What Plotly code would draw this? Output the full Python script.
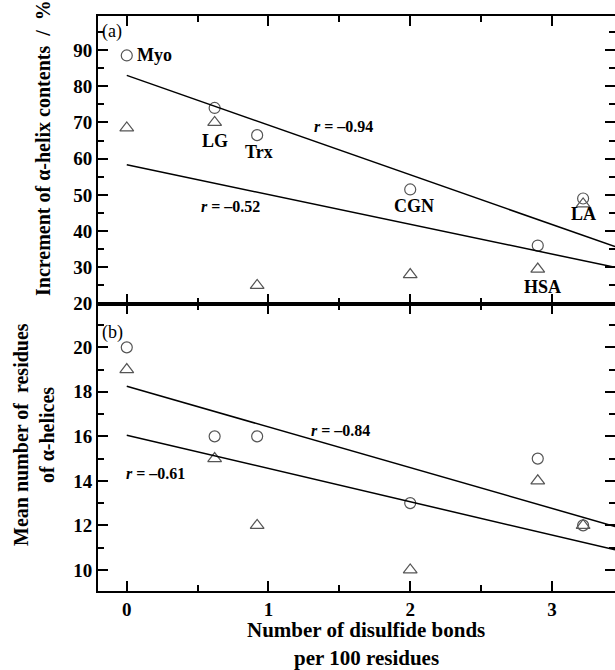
import plotly.graph_objects as go

# ---------------- data ----------------
proteins = ["Myo", "LG", "Trx", "CGN", "HSA", "LA"]
disulfide = [0.0, 0.62, 0.92, 2.0, 2.9, 3.22]

# panel (a): increment of alpha-helix contents (%)
inc_circle = [88.5, 74.0, 66.5, 51.5, 36.0, 49.0]
inc_triangle = [68.5, 70.0, 25.0, 28.0, 29.5, 47.5]
fit_a_x = [0.0, 3.445]
fit_a_upper = [83.0, 35.7]
fit_a_lower = [58.3, 30.0]

# panel (b): mean number of residues of alpha-helices
res_circle = [20.0, 16.0, 16.0, 13.0, 15.0, 12.0]
res_triangle = [19.0, 15.0, 12.0, 10.0, 14.0, 12.0]
fit_b_x = [0.0, 3.445]
fit_b_upper = [18.25, 11.95]
fit_b_lower = [16.05, 10.9]

FONT = "Liberation Serif"
MK = "#555555"
XR = [-0.203, 3.445]
YA = [20, 99.4]
YB = [9.05, 21.97]

fig = go.Figure()

def scatter(x, y, sym, size, xa, ya):
    fig.add_trace(go.Scatter(
        x=x, y=y, mode="markers", xaxis=xa, yaxis=ya, showlegend=False,
        marker=dict(symbol=sym, size=size, color=MK,
                    line=dict(color=MK, width=1.2))))

def line(x, y, xa, ya):
    fig.add_trace(go.Scatter(
        x=x, y=y, mode="lines", xaxis=xa, yaxis=ya, showlegend=False,
        line=dict(color="black", width=1.5)))

scatter(disulfide, inc_circle, "circle-open", 11, "x2", "y2")
scatter(disulfide, inc_triangle, "triangle-up-open", 12, "x2", "y2")
line(fit_a_x, fit_a_upper, "x2", "y2")
line(fit_a_x, fit_a_lower, "x2", "y2")

scatter(disulfide, res_circle, "circle-open", 11, "x", "y")
scatter(disulfide, res_triangle, "triangle-up-open", 12, "x", "y")
line(fit_b_x, fit_b_upper, "x", "y")
line(fit_b_x, fit_b_lower, "x", "y")

axfont = dict(family=FONT, size=19, color="black", weight="bold")

def minor(dt):
    return dict(ticks="inside", ticklen=6, tickwidth=2, tickcolor="black",
                dtick=dt, tick0=0, showgrid=False)

def axis(rng, dt, **kw):
    d = dict(range=rng, showline=True, linecolor="black", linewidth=2,
             mirror="ticks", ticks="inside", ticklen=10, tickwidth=2,
             tickcolor="black", dtick=dt, tick0=0, tickfont=axfont,
             showgrid=False, zeroline=False)
    d.update(kw)
    return d

fig.update_layout(
    template="none",
    width=615, height=670,
    margin=dict(l=98, r=0, t=16, b=79),
    plot_bgcolor="white", paper_bgcolor="white",
    font=dict(family=FONT, color="black"),
    showlegend=False,
    xaxis=axis(XR, 1, anchor="y", minor=minor(0.5)),
    xaxis2=axis(XR, 1, anchor="y2", showticklabels=False, minor=minor(0.5)),
    yaxis=axis(YB, 2, domain=[0, 0.5], anchor="x", minor=minor(1)),
    yaxis2=axis(YA, 10, domain=[0.5, 1], anchor="x2", minor=minor(5)),
)

def ann(text, x, y, xref, yref, size=18, xanchor="center", **kw):
    fig.add_annotation(text=text, x=x, y=y, xref=xref, yref=yref,
                       showarrow=False, xanchor=xanchor, yanchor="middle",
                       font=dict(family=FONT, size=size, color="black"), **kw)

ann("(a)", -0.19, 95.0, "x2", "y2", size=18, xanchor="left")
ann("<b>Myo</b>", 0.06, 88.5, "x2", "y2", xanchor="left")
ann("<b>LG</b>", 0.62, 64.8, "x2", "y2")
ann("<b>Trx</b>", 0.93, 61.8, "x2", "y2")
ann("<b>CGN</b>", 2.03, 47.0, "x2", "y2")
ann("<b>LA</b>", 3.22, 44.8, "x2", "y2")
ann("<b>HSA</b>", 2.93, 24.5, "x2", "y2")
ann("<b><i>r</i> = –0.94</b>", 1.53, 68.8, "x2", "y2", size=16)
ann("<b><i>r</i> = –0.52</b>", 0.73, 46.7, "x2", "y2", size=16)

ann("(b)", -0.19, 20.65, "x", "y", size=18, xanchor="left")
ann("<b><i>r</i> = –0.84</b>", 1.51, 16.25, "x", "y", size=16)
ann("<b><i>r</i> = –0.61</b>", 0.2, 14.33, "x", "y", size=16)

ann("<b>Increment of α-helix contents  /  %</b>", 0, (591 - 148) / 575,
    "paper", "paper", size=20, textangle=-90, xshift=-55)
ann("<b>Mean number of  residues</b>", 0, (591 - 435) / 575, "paper", "paper",
    size=20, textangle=-90, xshift=-77)
ann("<b>of α-helices</b>", 0, (591 - 435) / 575, "paper", "paper",
    size=20, textangle=-90, xshift=-51)

ann("<b>Number of disulfide bonds</b>", 1.69, -(630 - 591) / 575, "x", "paper",
    size=21)
ann("<b>per 100 residues</b>", 1.69, -(658 - 591) / 575, "x", "paper", size=21)

fig.write_html("out.html")
